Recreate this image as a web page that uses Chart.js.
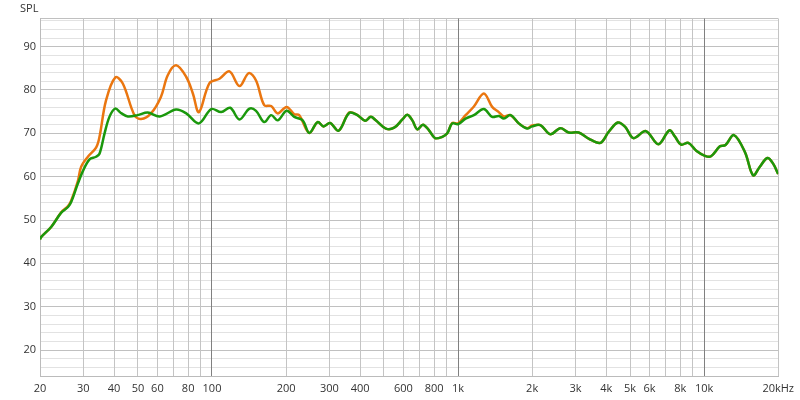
<!DOCTYPE html>
<html>
<head>
<meta charset="utf-8">
<script src="https://cdn.jsdelivr.net/npm/chart.js@4"></script>
<style>
  html, body { margin: 0; padding: 0; background: #ffffff; }
  #wrap { width: 800px; height: 400px; }
</style>
</head>
<body>
<div id="wrap"><canvas id="c" width="800" height="400"></canvas></div>
<script>
// ---- data (frequency in Hz, level in dB SPL) ----
const freqGreen = [20, 20.24, 22.2, 24.4, 26.0, 26.8, 28.5, 30.0, 31.8, 33.8, 34.9, 36.6, 38.3, 40.4, 42.9, 45.5, 49.9, 54.8, 61.3,
  71.5, 78.6, 88.5, 99.3, 109, 118.6, 129.3, 142, 151, 163, 174, 185, 201, 216, 233.6, 248.6, 268.7, 284, 302, 327,
  361, 390, 419, 442, 463, 509, 550, 594, 622, 652, 683, 720, 762, 806, 863, 904, 947, 1000, 1073, 1160, 1273, 1376,
  1464, 1535, 1634, 1765, 1907, 2000, 2161, 2372, 2605, 2814, 3090, 3393, 3785, 4089, 4459, 4778, 5163, 5800, 6521,
  7226, 7620, 8059, 8628, 9322, 10080, 10662, 11595, 12218, 13215, 14645, 15825, 16844, 18083, 19071, 20000];
const splGreen = [45.5, 46.1, 48.4, 51.7, 53.0, 54.2, 58.4, 61.5, 64.0, 64.6, 65.3, 70.0, 73.8, 75.7, 74.6, 73.9, 74.2, 74.8, 73.9,
  75.5, 74.6, 72.3, 75.6, 74.9, 75.9, 73.2, 75.7, 75.2, 72.6, 74.2, 73.0, 75.2, 73.8, 73.0, 70.1, 72.6, 71.6, 72.4, 70.6,
  74.7, 74.2, 72.9, 73.8, 73.0, 71.1, 71.3, 73.2, 74.3, 73.0, 70.9, 72.0, 70.7, 68.9, 69.2, 70.0, 72.3, 72.1, 73.4, 74.2, 75.6, 73.8,
  74.0, 73.4, 74.2, 72.3, 71.1, 71.6, 71.9, 69.8, 71.2, 70.2, 70.2, 68.8, 67.8, 70.3, 72.5, 71.5, 68.9, 70.5, 67.5,
  70.7, 69.2, 67.4, 67.8, 65.9, 64.8, 64.7, 67.0, 67.3, 69.6, 65.7, 60.3, 62.3, 64.3, 63.0, 60.6];

const freqOrange = [20, 20.24, 22.2, 24.4, 26.0, 26.8, 28.5, 29.4, 31.3, 33.8, 34.9, 37.1, 40.5, 43.4, 48.4, 51.5, 56.5, 62.0, 66.1,
  71.5, 78.6, 83.6, 88.5, 97.7, 107.3, 117.8, 129.3, 141.1, 151, 163, 174, 185, 201, 216, 226, 248.6, 268.7, 284, 302, 327,
  361, 390, 419, 442, 463, 509, 550, 594, 622, 652, 683, 720, 762, 806, 863, 904, 947, 1000, 1073, 1160, 1273, 1376,
  1464, 1535, 1634, 1765, 1907, 2000, 2161, 2372, 2605, 2814, 3090, 3393, 3785, 4089, 4459, 4778, 5163, 5800, 6521,
  7226, 7620, 8059, 8628, 9322, 10080, 10662, 11595, 12218, 13215, 14645, 15825, 16844, 18083, 19071, 20000];
const splOrange = [45.6, 46.1, 48.4, 51.8, 53.2, 54.5, 59.0, 62.3, 64.6, 66.7, 69.2, 77.6, 82.9, 81.5, 74.2, 73.3, 74.6, 78.4, 83.4,
  85.7, 83.0, 79.2, 74.9, 81.6, 82.6, 84.3, 80.9, 83.9, 82.2, 76.5, 76.3, 74.6, 76.1, 74.4, 74.2, 70.1, 72.6, 71.6, 72.4, 70.6,
  74.8, 74.2, 72.9, 73.8, 73.0, 71.1, 71.3, 73.2, 74.3, 73.0, 70.9, 72.0, 70.7, 68.9, 69.2, 70.0, 72.4, 72.3, 74.2, 76.2, 79.2, 76.1,
  74.9, 73.9, 74.2, 72.3, 71.2, 71.8, 71.9, 69.8, 71.2, 70.2, 70.2, 68.8, 67.8, 70.3, 72.5, 71.5, 68.9, 70.5, 67.5,
  70.7, 69.2, 67.4, 67.8, 65.9, 64.8, 64.7, 67.0, 67.3, 69.6, 65.7, 60.3, 62.3, 64.3, 63.0, 60.6];

// ---- axes ----
const xGridValues = [20, 30, 40, 50, 60, 70, 80, 90, 100, 200, 300, 400, 500, 600, 700, 800, 900,
  1000, 2000, 3000, 4000, 5000, 6000, 7000, 8000, 9000, 10000, 20000];
const xLabelValues = [20, 30, 40, 50, 60, 80, 100, 200, 300, 400, 600, 800, 1000, 2000, 3000, 4000, 5000, 6000, 8000, 10000, 20000];
const xLabelTexts = ['20', '30', '40', '50', '60', '80', '100', '200', '300', '400', '600', '800', '1k', '2k', '3k', '4k', '5k', '6k', '8k', '10k', '20kHz'];
const xDecades = [100, 1000, 10000];
const yLabelValues = [20, 30, 40, 50, 60, 70, 80, 90];
const yMin = 14, yMax = 96.5, yMinorStep = 2;
const yAxisTitle = 'SPL';

const toPoints = (fs, vs) => fs.map((f, i) => ({ x: f, y: vs[i] }));

const FONT = { family: "'Open Sans', 'Noto Sans', sans-serif", size: 11 };

const titlePlugin = {
  id: 'splTitle',
  afterDraw(chart) {
    const ctx = chart.ctx;
    ctx.save();
    ctx.font = "11px 'Open Sans', 'Noto Sans', sans-serif";
    ctx.fillStyle = '#333333';
    ctx.textBaseline = 'middle';
    ctx.textAlign = 'left';
    ctx.fillText(yAxisTitle, 20, 8.5);
    ctx.restore();
  }
};

new Chart(document.getElementById('c'), {
  type: 'line',
  data: {
    datasets: [
      {
        label: 'green',
        data: toPoints(freqGreen, splGreen),
        borderColor: '#1a980c',
        borderWidth: 2.5,
        pointRadius: 0,
        tension: 0.35,
        fill: false,
        order: 1
      },
      {
        label: 'orange',
        data: toPoints(freqOrange, splOrange),
        borderColor: '#ea7610',
        borderWidth: 2.5,
        pointRadius: 0,
        tension: 0.35,
        fill: false,
        order: 2
      }
    ]
  },
  options: {
    responsive: false,
    animation: false,
    events: [],
    layout: { padding: { top: 18.5, right: 20, bottom: 0, left: 0 } },
    plugins: { legend: { display: false }, tooltip: { enabled: false } },
    scales: {
      x: {
        type: 'logarithmic',
        min: 20,
        max: 20000,
        afterBuildTicks(scale) { scale.ticks = xGridValues.map(v => ({ value: v })); },
        afterFit(scale) { scale.height = 24; },
        ticks: {
          autoSkip: false,
          maxRotation: 0,
          minRotation: 0,
          padding: 6,
          color: '#333333',
          font: FONT,
          callback(value) {
            const i = xLabelValues.indexOf(value);
            return i >= 0 ? xLabelTexts[i] : '';
          }
        },
        grid: {
          z: -1,
          drawTicks: false,
          lineWidth: 1,
          color(ctx) {
            return ctx.tick && xDecades.includes(ctx.tick.value) ? '#808080' : '#c4c4c4';
          }
        },
        border: { display: true, color: '#bbbbbb' }
      },
      y: {
        type: 'linear',
        min: yMin,
        max: yMax,
        afterBuildTicks(scale) {
          const t = [];
          for (let v = yMin; v <= yMax; v += yMinorStep) t.push({ value: v });
          t.push({ value: yMax });
          scale.ticks = t;
        },
        afterFit(scale) { scale.width = 40; },
        ticks: {
          autoSkip: false,
          padding: 4,
          color: '#333333',
          font: FONT,
          callback(value) { return yLabelValues.includes(value) ? String(value) : ''; }
        },
        grid: {
          z: -2,
          drawTicks: false,
          lineWidth: 1,
          color(ctx) {
            const v = ctx.tick ? ctx.tick.value : 0;
            return (v % 10 === 0 || v === yMin || v === yMax) ? '#c0c0c0' : '#e2e2e2';
          }
        },
        border: { display: true, color: '#bbbbbb' }
      }
    }
  },
  plugins: [titlePlugin]
});
</script>
</body>
</html>
